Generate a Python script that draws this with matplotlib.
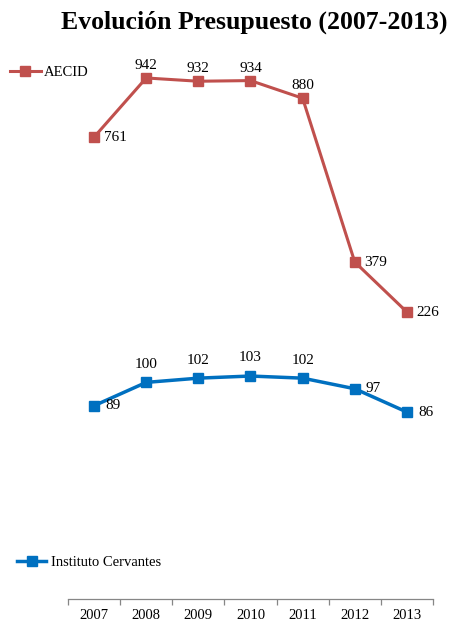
import matplotlib
matplotlib.use('Agg')
import matplotlib.pyplot as plt

# Data
years = ['2007', '2008', '2009', '2010', '2011', '2012', '2013']
aecid = [761, 942, 932, 934, 880, 379, 226]
cervantes = [89, 100, 102, 103, 102, 97, 86]

# label placement: 'r' = right of marker, 'u' = above marker
aecid_pos = ['r', 'u', 'u', 'u', 'u', 'r', 'r']
cervantes_pos = ['r', 'u', 'u', 'u', 'u', 'r', 'r']

plt.rcParams['font.family'] = ['Liberation Serif', 'DejaVu Serif']

red = '#C0504D'
blue = '#0070C0'

fig = plt.figure(figsize=(4.49, 6.21), dpi=100)

ax_top = fig.add_axes([0.1514, 0.4686, 0.8129, 0.4348])
ax_bot = fig.add_axes([0.1514, 0.0354, 0.8129, 0.4171])

x = list(range(len(years)))

l1, = ax_top.plot(x, aecid, color=red, lw=2.2, marker='s', ms=7.5,
                  markeredgecolor=red, label='AECID')
l2, = ax_bot.plot(x, cervantes, color=blue, lw=2.5, marker='s', ms=7.5,
                  markeredgecolor=blue, label='Instituto Cervantes')

for i, v in enumerate(aecid):
    if aecid_pos[i] == 'r':
        ax_top.annotate(str(v), (i, v), xytext=(7, 0), textcoords='offset points',
                        ha='left', va='center', fontsize=11)
    else:
        ax_top.annotate(str(v), (i, v), xytext=(0, 9), textcoords='offset points',
                        ha='center', va='center', fontsize=11)

for i, v in enumerate(cervantes):
    if cervantes_pos[i] == 'r':
        ax_bot.annotate(str(v), (i, v), xytext=(8, 0), textcoords='offset points',
                        ha='left', va='center', fontsize=11)
    else:
        ax_bot.annotate(str(v), (i, v), xytext=(0, 13), textcoords='offset points',
                        ha='center', va='center', fontsize=11)

ax_top.set_xlim(-0.5, 6.5)
ax_bot.set_xlim(-0.5, 6.5)
ax_top.set_ylim(171, 997)
ax_bot.set_ylim(-2.2, 120)

for ax in (ax_top, ax_bot):
    for s in ax.spines.values():
        s.set_visible(False)
    ax.set_yticks([])
    ax.patch.set_alpha(0)

ax_top.set_xticks([])

ax_bot.spines['bottom'].set_visible(True)
ax_bot.spines['bottom'].set_color('#868686')
ax_bot.spines['bottom'].set_linewidth(0.9)
ax_bot.set_xticks([i - 0.5 for i in range(len(years) + 1)], minor=False)
ax_bot.set_xticklabels([])
ax_bot.tick_params(axis='x', which='major', length=4, color='#868686', width=0.9)
ax_bot.set_xticks(x, minor=True)
ax_bot.set_xticklabels(years, minor=True, fontsize=10.5)
ax_bot.tick_params(axis='x', which='minor', length=0, pad=7)

fig.text(0.567, 0.964, 'Evolución Presupuesto (2007-2013)', ha='center', va='center',
         fontsize=18.5, fontweight='bold')

fig.legend(handles=[l1], loc='center left', bbox_to_anchor=(0.022, 0.884),
           frameon=False, borderpad=0, borderaxespad=0, handlelength=2.1,
           handletextpad=0.2, fontsize=10.5)
fig.legend(handles=[l2], loc='center left', bbox_to_anchor=(0.038, 0.095),
           frameon=False, borderpad=0, borderaxespad=0, handlelength=2.0,
           handletextpad=0.3, fontsize=10.5)

fig.savefig('out.png', dpi=100)
